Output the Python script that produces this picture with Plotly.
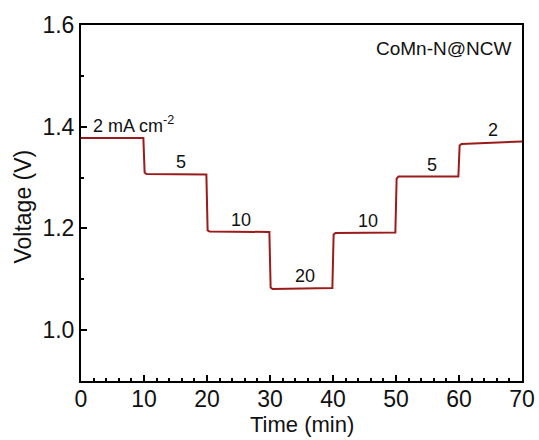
import plotly.graph_objects as go

# Data
time_min = [0, 9.9, 10.1, 10.4, 19.9, 20.1, 20.4, 29.9, 30.1, 30.4,
            39.9, 40.1, 40.4, 49.9, 50.1, 50.4, 59.9, 60.1, 60.4, 70]
voltage_v = [1.378, 1.378, 1.310, 1.307, 1.306, 1.196, 1.194, 1.193, 1.084, 1.081,
             1.083, 1.188, 1.191, 1.192, 1.298, 1.302, 1.302, 1.363, 1.366, 1.371]

step_labels = ["2 mA cm<sup>-2</sup>", "5", "10", "20", "10", "5", "2"]
label_time = [1.6, 15.9, 25.4, 35.6, 45.6, 55.7, 65.4]
label_volt = [1.378, 1.307, 1.193, 1.082, 1.192, 1.302, 1.370]

x_ticks = [0, 10, 20, 30, 40, 50, 60, 70]
y_ticks = [1.0, 1.2, 1.4, 1.6]

FONT = "Liberation Sans, Arial, sans-serif"

fig = go.Figure()
fig.add_trace(go.Scatter(x=time_min, y=voltage_v, mode="lines",
                         line=dict(color="#9b1b1b", width=2),
                         showlegend=False, hoverinfo="skip"))

for i, (t, v, txt) in enumerate(zip(label_time, label_volt, step_labels)):
    fig.add_annotation(x=t, y=v, text=txt, showarrow=False,
                       xanchor="left" if i == 0 else "center", yanchor="bottom",
                       yshift=0, font=dict(family=FONT, size=18, color="#111"))

fig.add_annotation(x=0.98, y=0.97, xref="paper", yref="paper", text="CoMn-N@NCW",
                   showarrow=False, xanchor="right", yanchor="top",
                   font=dict(family=FONT, size=19, color="#111"))

# axis titles
fig.add_annotation(x=0.5, y=0, xref="paper", yref="paper", text="Time (min)",
                   showarrow=False, xanchor="center", yanchor="middle", yshift=-43,
                   font=dict(family=FONT, size=22, color="#111"))
fig.add_annotation(x=0, y=0.49, xref="paper", yref="paper", text="Voltage (V)",
                   showarrow=False, xanchor="center", yanchor="middle", xshift=-58,
                   textangle=-90, font=dict(family=FONT, size=23, color="#111"))

axis_common = dict(showline=True, linecolor="black", linewidth=2, mirror=True,
                   ticks="inside", tickcolor="black", tickwidth=2, ticklen=6,
                   showgrid=False, zeroline=False, automargin=False,
                   tickfont=dict(family=FONT, size=23, color="#111"))

fig.update_xaxes(range=[0, 70], tickvals=x_ticks, ticktext=[str(v) for v in x_ticks],
                 ticklabelstandoff=-4,
                 minor=dict(ticks="inside", ticklen=3, tickwidth=1.5, tickcolor="black", dtick=2, tick0=0),
                 **axis_common)
fig.update_yaxes(range=[0.9, 1.6], tickvals=y_ticks, ticktext=[f"{v:.1f}" for v in y_ticks],
                 minor=dict(ticks="inside", ticklen=3, tickwidth=1.5, tickcolor="black", dtick=0.1, tick0=0.9),
                 **axis_common)

fig.update_layout(width=539, height=440, margin=dict(l=81, r=17, t=25, b=59, autoexpand=False),
                  paper_bgcolor="white", plot_bgcolor="white")

fig.write_html("out.html")
